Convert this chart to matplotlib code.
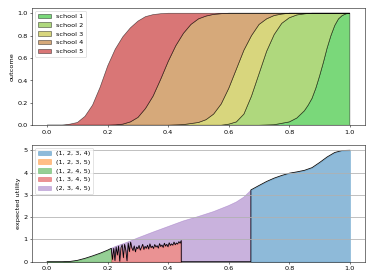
import matplotlib
matplotlib.use("Agg")
import matplotlib.pyplot as plt
import matplotlib.patches as mpatches
import numpy as np

# ---- top panel: cumulative outcome curves (school 1 .. school 5) ----
c1_x = [0, 0.7, 0.75, 0.8, 0.825, 0.85, 0.8625, 0.875, 0.8875, 0.9, 0.9125,
        0.925, 0.9375, 0.95, 0.9625, 0.975, 0.9875, 1.0]
c1_y = [0, 0, 0.005, 0.03, 0.065, 0.13, 0.18, 0.24, 0.33, 0.44, 0.56,
        0.69, 0.80, 0.89, 0.95, 0.98, 0.995, 1.0]
c2_x = [0, 0.575, 0.6, 0.625, 0.65, 0.675, 0.7, 0.725, 0.75, 0.775, 0.8,
        0.825, 0.85, 0.875, 1.0]
c2_y = [0, 0, 0.01, 0.03, 0.10, 0.26, 0.46, 0.66, 0.81, 0.91, 0.96,
        0.985, 0.995, 1.0, 1.0]
c3_x = [0, 0.4, 0.45, 0.5, 0.525, 0.55, 0.575, 0.6, 0.625, 0.65, 0.675,
        0.7, 0.725, 0.75, 0.775, 0.8, 1.0]
c3_y = [0, 0, 0.006, 0.025, 0.05, 0.10, 0.19, 0.33, 0.50, 0.67, 0.80,
        0.90, 0.95, 0.98, 0.993, 1.0, 1.0]
c4_x = [0, 0.2, 0.225, 0.25, 0.275, 0.3, 0.325, 0.35, 0.375, 0.4, 0.425,
        0.45, 0.475, 0.5, 0.525, 0.55, 0.575, 0.6, 1.0]
c4_y = [0, 0, 0.003, 0.01, 0.03, 0.07, 0.15, 0.26, 0.41, 0.57, 0.71,
        0.82, 0.90, 0.95, 0.975, 0.99, 0.996, 1.0, 1.0]
c5_x = [0, 0.05, 0.075, 0.1, 0.125, 0.15, 0.175, 0.2, 0.225, 0.25, 0.275,
        0.3, 0.325, 0.35, 0.375, 0.4, 1.0]
c5_y = [0, 0, 0.01, 0.025, 0.08, 0.18, 0.34, 0.53, 0.68, 0.79, 0.87,
        0.93, 0.97, 0.988, 0.996, 1.0, 1.0]

schools = ["school 1", "school 2", "school 3", "school 4", "school 5"]
school_colors = ["#21be21", "#7abe26", "#bebb26", "#bb7121", "#c11b1b"]

# ---- bottom panel: expected utility of the chosen portfolio ----
portfolios = ["(1, 2, 3, 4)", "(1, 2, 3, 5)", "(1, 2, 4, 5)", "(1, 3, 4, 5)", "(2, 3, 4, 5)"]

green_x = [0, 0.05, 0.075, 0.1, 0.125, 0.15, 0.175, 0.2, 0.212]
green_y = [0, 0, 0.01, 0.06, 0.15, 0.26, 0.38, 0.52, 0.6]
purple_x = [0.212, 0.225, 0.25, 0.275, 0.3, 0.35, 0.4, 0.45, 0.5, 0.55,
            0.6, 0.625, 0.65, 0.673]
purple_y = [0.6, 0.68, 0.8, 0.93, 1.07, 1.33, 1.58, 1.83, 2.03, 2.25,
            2.52, 2.68, 2.9, 3.2]
blue_x = [0.673, 0.7, 0.725, 0.75, 0.775, 0.8, 0.825, 0.85, 0.875, 0.9,
          0.925, 0.95, 0.975, 1.0]
blue_y = [3.22, 3.42, 3.6, 3.75, 3.87, 3.97, 4.03, 4.1, 4.22, 4.45,
          4.7, 4.9, 4.99, 5.0]
# noisy estimate where (1, 3, 4, 5) wins
red_y = [0.55, 0.10, 0.60, 0.05, 0.66, 0.30, 0.70, 0.02, 0.62, 0.76,
         0.18, 0.78, 0.52, 0.04, 0.84, 0.45, 0.88,
         0.62, 0.50, 0.71, 0.44, 0.66, 0.58, 0.73, 0.52, 0.64, 0.78,
         0.55, 0.69, 0.60, 0.74, 0.57, 0.80, 0.63, 0.70, 0.59, 0.77,
         0.66, 0.72, 0.61, 0.81, 0.68, 0.75, 0.64, 0.83, 0.70, 0.78,
         0.67, 0.85, 0.73, 0.80, 0.74, 0.88, 0.76, 0.84, 0.79, 0.90,
         0.83, 0.95]
red_x = list(np.linspace(0.212, 0.443, len(red_y)))

fig = plt.figure(figsize=(8, 5.99), dpi=46.75)
ax1 = fig.add_axes([0.0856, 0.5525, 0.8903, 0.42])
ax2 = fig.add_axes([0.0856, 0.0654, 0.8903, 0.4178])

# top: stacked regions between consecutive cumulative curves
curves = [([0, 1.0], [0, 0]), (c1_x, c1_y), (c2_x, c2_y), (c3_x, c3_y),
          (c4_x, c4_y), (c5_x, c5_y)]
for k in range(5):
    lo_x, lo_y = curves[k]
    up_x, up_y = curves[k + 1]
    px = list(up_x) + list(lo_x)[::-1]
    py = list(up_y) + list(lo_y)[::-1]
    ax1.fill(px, py, facecolor=school_colors[k], edgecolor="k",
             alpha=0.6, linewidth=1.0, label=schools[k])

ax1.set_xlim(-0.05, 1.05)
ax1.set_ylim(0, 1.05)
ax1.set_ylabel("outcome")
ax1.legend(loc="upper left")

# bottom
ax2.yaxis.grid(True, color="#b0b0b0", linewidth=1.2)
ax2.set_axisbelow(False)
ax2.fill_between(green_x, 0, green_y, color="C2", alpha=0.5)
ax2.fill_between(red_x, 0, red_y, color="C3", alpha=0.5)
ax2.fill(purple_x + [0.673, red_x[-1]] + red_x[::-1],
         purple_y + [0, 0] + red_y[::-1], color="C4", alpha=0.5)
ax2.fill_between(blue_x, 0, blue_y, color="C0", alpha=0.5)

line_x = green_x + red_x + [red_x[-1], 0.673] + blue_x
line_y = green_y + red_y + [0, 0] + blue_y
ax2.plot(line_x, line_y, color="k", linewidth=1.2)

ax2.set_xlim(-0.05, 1.05)
ax2.set_ylim(0, 5.25)
ax2.set_ylabel("expected utility")
handles = [mpatches.Patch(color="C%d" % i, alpha=0.5, label=p)
           for i, p in enumerate(portfolios)]
ax2.legend(handles=handles, loc="upper left")

fig.savefig("out.png", dpi=46.75)
